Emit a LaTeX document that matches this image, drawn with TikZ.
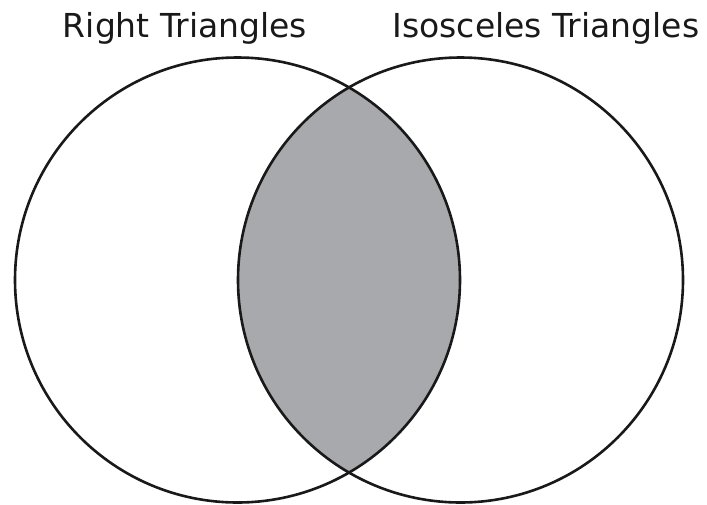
\documentclass[tikz,border=0pt]{standalone}
\usepackage{fontspec}
\setmainfont{DejaVu Sans}
\definecolor{lensgray}{RGB}{167,169,172}
\begin{document}
\begin{tikzpicture}[x=1pt,y=-1pt,
  circ/.style={line width=2.6pt, draw=black!90},
  lbl/.style={font=\fontsize{33}{38}\selectfont, anchor=base, text=black!90, inner sep=0pt}]
\useasboundingbox (0,0) rectangle (707,504);
\coordinate (cl) at (237.5,280);
\coordinate (cr) at (460.5,280);
\begin{scope}
  \clip (cl) circle (222.5);
  \fill[lensgray] (cr) circle (222.5);
\end{scope}
\draw[circ] (cl) circle (222.5);
\draw[circ] (cr) circle (222.5);
\node[lbl] (lt) at (185,37.5) {Right Triangles};
\node[lbl] (rt) at (546,37.5) {Isosceles Triangles};
\end{tikzpicture}
\end{document}
